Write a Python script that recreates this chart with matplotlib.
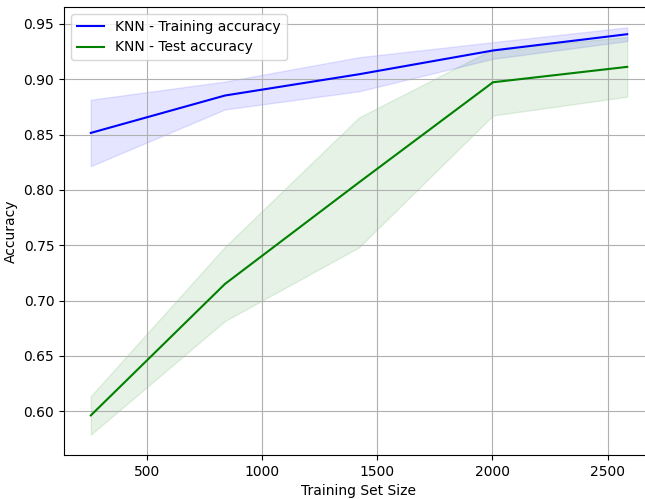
import numpy as np
import matplotlib
matplotlib.use("Agg")
import matplotlib.pyplot as plt

# Learning curve of a KNN classifier
train_sizes = [258, 840, 1421, 2003, 2585]
train_mean = [0.8515, 0.8853, 0.9045, 0.9260, 0.9407]
train_std = [0.0300, 0.0126, 0.0154, 0.0075, 0.0062]
test_mean = [0.5962, 0.7150, 0.8067, 0.8973, 0.9112]
test_std = [0.0174, 0.0335, 0.0587, 0.0300, 0.0270]

sizes = np.array(train_sizes)
tr_m, tr_s = np.array(train_mean), np.array(train_std)
te_m, te_s = np.array(test_mean), np.array(test_std)

fig = plt.figure(figsize=(6.45, 4.99), dpi=100)
ax = fig.add_axes([64 / 645, 44 / 499, 590 / 645, 448 / 499])

ax.plot(sizes, tr_m, color="blue", label="KNN - Training accuracy")
ax.fill_between(sizes, tr_m - tr_s, tr_m + tr_s, color="blue", alpha=0.1)
ax.plot(sizes, te_m, color="green", label="KNN - Test accuracy")
ax.fill_between(sizes, te_m - te_s, te_m + te_s, color="green", alpha=0.1)

ax.set_xlabel("Training Set Size")
ax.set_ylabel("Accuracy")
ax.legend(loc="upper left")
ax.grid(True)
# the right border lies past the canvas edge
ax.spines["right"].set_visible(False)

fig.savefig("out.png", dpi=100)
